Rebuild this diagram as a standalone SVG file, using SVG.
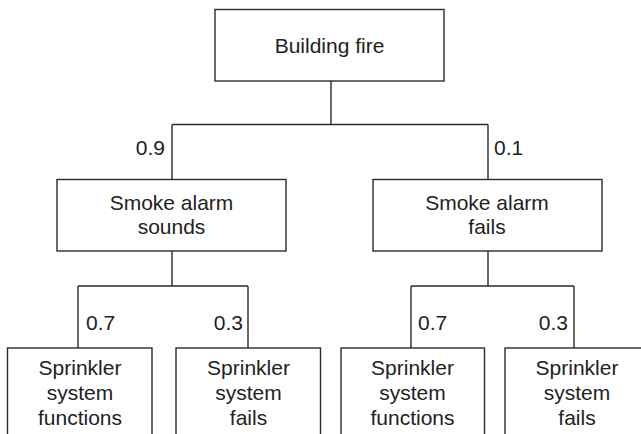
<svg xmlns="http://www.w3.org/2000/svg" width="641" height="434" viewBox="0 0 641 434">
<style>
.box{fill:#fff;stroke:#2b2b2b;stroke-width:1.4}
.ln{fill:none;stroke:#2b2b2b;stroke-width:1.4}
text{font-family:"Liberation Sans",Arial,sans-serif;font-size:21px;fill:#222}
.c{text-anchor:middle}
.e{text-anchor:end}
</style>
<rect width="641" height="434" fill="#fff"/>
<g id="connectors">
<path class="ln" d="M331 81 V124.5 M172 124.5 H488 M172 124.5 V179.5 M488 124.5 V179.5"/>
<path class="ln" d="M172 251 V286 M78 286 H248 M78 286 V348 M248 286 V348"/>
<path class="ln" d="M488 251 V286 M411 286 H574 M411 286 V348 M574 286 V348"/>
<text class="e" x="165" y="155">0.9</text>
<text x="494" y="155">0.1</text>
<text x="86" y="330">0.7</text>
<text class="e" x="243" y="330">0.3</text>
<text x="418" y="330">0.7</text>
<text class="e" x="568" y="330">0.3</text>
</g>
<g id="building-fire">
<rect class="box" x="215" y="9.5" width="229" height="71.5"/>
<text class="c" x="329.5" y="53">Building fire</text>
</g>
<g id="alarm-sounds">
<rect class="box" x="57" y="179.5" width="229" height="71.5"/>
<text class="c" x="171.5" y="210">Smoke alarm</text>
<text class="c" x="171.5" y="234">sounds</text>
</g>
<g id="alarm-fails">
<rect class="box" x="373" y="179.5" width="229" height="71.5"/>
<text class="c" x="487" y="210">Smoke alarm</text>
<text class="c" x="487" y="234">fails</text>
</g>
<g id="s1-functions">
<rect class="box" x="7.5" y="348" width="144.5" height="100"/>
<text class="c" x="80" y="375">Sprinkler</text>
<text class="c" x="80" y="400">system</text>
<text class="c" x="80" y="425">functions</text>
</g>
<g id="s1-fails">
<rect class="box" x="176" y="348" width="144.5" height="100"/>
<text class="c" x="248.5" y="375">Sprinkler</text>
<text class="c" x="248.5" y="400">system</text>
<text class="c" x="248.5" y="425">fails</text>
</g>
<g id="s2-functions">
<rect class="box" x="341" y="348" width="143.5" height="100"/>
<text class="c" x="412.5" y="375">Sprinkler</text>
<text class="c" x="412.5" y="400">system</text>
<text class="c" x="412.5" y="425">functions</text>
</g>
<g id="s2-fails">
<rect class="box" x="505" y="348" width="144.5" height="100"/>
<text class="c" x="577" y="375">Sprinkler</text>
<text class="c" x="577" y="400">system</text>
<text class="c" x="577" y="425">fails</text>
</g>
</svg>
